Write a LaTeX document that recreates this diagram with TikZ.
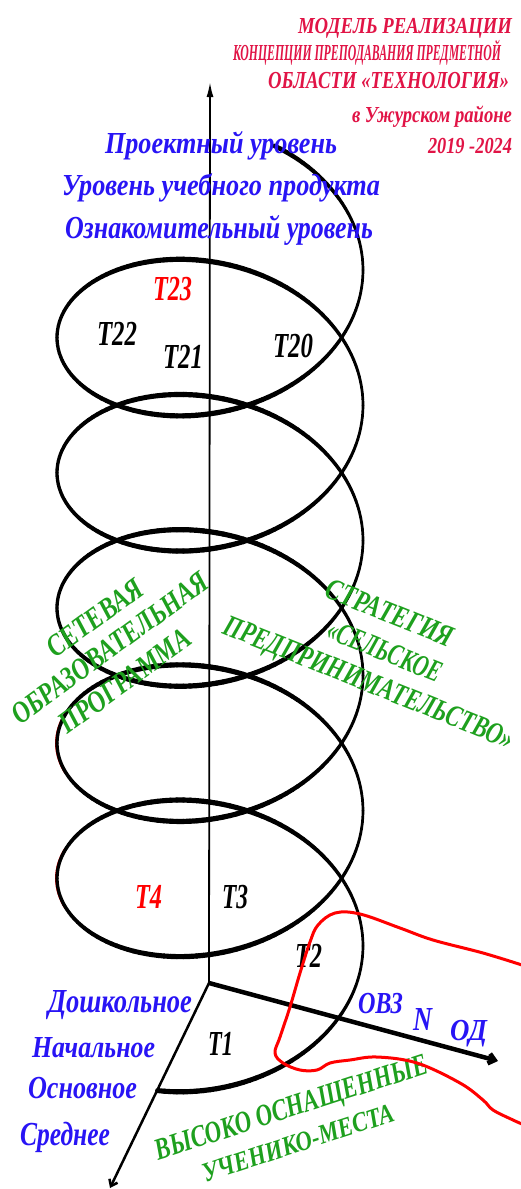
\documentclass[tikz,border=0pt]{standalone}
\usepackage{fontspec}
\setmainfont{Liberation Serif}
\usetikzlibrary{arrows.meta}
\definecolor{ttl}{RGB}{225,20,70}
\definecolor{blu}{RGB}{40,20,245}
\definecolor{grn}{RGB}{30,160,30}
\definecolor{rd}{RGB}{255,0,0}
\newlength\fitw
\newlength\fith
\newcommand\fitto[3]{\settowidth\fitw{#3}\settoheight\fith{H}%
  \pgfmathsetmacro\fitsx{#1/\fitw}\pgfmathsetmacro\fitsy{#2/\fith}%
  \scalebox{\fitsx}[\fitsy]{#3}}
\tikzset{
  lbl/.style={inner sep=0pt, outer sep=0pt, font=\bfseries\itshape\fontsize{20}{24}\selectfont},
  ttltext/.style={lbl, text=ttl, anchor=base east},
  bltext/.style={lbl, text=blu, anchor=base west},
  tlab/.style={lbl, text=black, anchor=base west},
  rlab/.style={lbl, text=rd, anchor=base west},
  gtext/.style={lbl, text=grn, anchor=center},
  axis/.style={draw=black}
}
\begin{document}
\begin{tikzpicture}[x=1pt,y=-1pt]
\fill[white] (0,0) rectangle (521,1189);
\useasboundingbox (0,0) rectangle (521,1189);
% faint red traces beside the left side of the helix
\foreach \k in {3,4} {
  \draw[rd, line width=0.9pt] plot[domain={160+360*\k}:{200+360*\k}, samples=12]
    ({208.5+153*cos(\x)},{270+0.3755*\x+110*sin(\x)});
}
% helix
\foreach \i in {0,...,789} {
  \pgfmathsetmacro\ta{-65+2.5*\i}
  \pgfmathsetmacro\tb{\ta+2.5}
  \pgfmathsetmacro\tm{\ta+1.25}
  \pgfmathsetmacro\w{3+2.2*sin(\tm)*sin(\tm)-0.3*cos(\tm)}
  \draw[line width=\w pt, line cap=round]
    ({210+153*cos(\ta)},{270+0.3755*\ta+110*sin(\ta)}) --
    ({210+153*cos(\tb)},{270+0.3755*\tb+110*sin(\tb)});
}
% axes
\coordinate (O) at (209,983);
\coordinate (Yt) at (210,82);
\coordinate (Xt) at (498,1061);
\coordinate (Zt) at (110,1188);
\draw[axis, line width=1.8pt, -{Latex[length=15pt,width=7pt]}] (O) -- (Yt);
\draw[axis, line width=4.5pt, -{Straight Barb[length=6pt,width=10pt]}] (O) -- (Xt);
\draw[axis, line width=2.5pt, -{Straight Barb[length=6pt,width=9pt]}] (O) -- (Zt);
% title
\node[ttltext] (h1) at (512,33) {\fitto{214}{15}{МОДЕЛЬ РЕАЛИЗАЦИИ}};
\node[ttltext] (h2) at (501,60) {\fitto{268}{15}{КОНЦЕПЦИИ ПРЕПОДАВАНИЯ ПРЕДМЕТНОЙ}};
\node[ttltext] (h3) at (509,88) {\fitto{241}{16}{ОБЛАСТИ «ТЕХНОЛОГИЯ»}};
\node[ttltext] (h4) at (512,122) {\fitto{160}{15}{в Ужурском районе}};
\node[ttltext] (h5) at (512,153) {\fitto{84}{15}{2019 -2024}};
% levels
\node[bltext] (l1) at (105,153) {\fitto{232}{20}{Проектный уровень}};
\node[bltext] (l2) at (62,195) {\fitto{318}{20}{Уровень учебного продукта}};
\node[bltext] (l3) at (65,238) {\fitto{308}{21}{Ознакомительный уровень}};
% T labels
\node[rlab] (t23) at (153,300) {\fitto{39}{23}{T23}};
\node[tlab] (t22) at (97,345) {\fitto{40}{23}{T22}};
\node[tlab] (t21) at (163,368) {\fitto{40}{23}{T21}};
\node[tlab] (t20) at (273,357) {\fitto{40}{23}{T20}};
\node[rlab] (t4) at (135,908) {\fitto{27}{23}{T4}};
\node[tlab] (t3) at (222,908) {\fitto{26}{23}{T3}};
\node[tlab] (t2) at (295,967) {\fitto{27}{23}{T2}};
\node[tlab] (t1) at (208,1055) {\fitto{25}{23}{T1}};
% axis labels
\node[bltext] (ovz) at (358,1013) {\fitto{45}{20}{ОВЗ}};
\node[bltext] (nn) at (413,1030) {\fitto{19}{22}{N}};
\node[bltext] (od) at (450,1040) {\fitto{37}{20}{ОД}};
\node[bltext] (s1) at (48,1012) {\fitto{144}{22}{Дошкольное}};
\node[bltext] (s2) at (32,1057) {\fitto{123}{20}{Начальное}};
\node[bltext] (s3) at (28,1098) {\fitto{109}{21}{Основное}};
\node[bltext] (s4) at (20,1145) {\fitto{90}{22}{Среднее}};
% green
\node[gtext, rotate=36] (g1) at (95,618) {\fitto{112}{20}{СЕТЕВАЯ}};
\node[gtext, rotate=36] (g2) at (110,648) {\fitto{236}{20}{ОБРАЗОВАТЕЛЬНАЯ}};
\node[gtext, rotate=36] (g3) at (125,681) {\fitto{156}{20}{ПРОГРАММА}};
\node[gtext, rotate=-22] (g4) at (390,613) {\fitto{135}{20}{СТРАТЕГИЯ}};
\node[gtext, rotate=-22] (g5) at (385,651) {\fitto{121}{20}{«СЕЛЬСКОЕ}};
\node[gtext, rotate=-22] (g6) at (368,685) {\fitto{310}{20}{ПРЕДПРИНИМАТЕЛЬСТВО»}};
\node[gtext, rotate=18] (g7) at (292,1110) {\fitto{285}{20}{ВЫСОКО ОСНАЩЕННЫЕ}};
\node[gtext, rotate=18] (g8) at (298,1143) {\fitto{200}{18}{УЧЕНИКО-МЕСТА}};
% red freehand curve
\draw[rd, line width=3pt, line cap=round, line join=round] plot[smooth, tension=0.6] coordinates {
 (522,965) (483,953) (433,940) (400,928) (360,914) (335,913) (318,925) (310,942)
 (300,973) (290,1007) (280,1037) (275,1053) (283,1063) (300,1070) (317,1070)
 (330,1063) (350,1060) (377,1057) (417,1063) (460,1083) (483,1100) (493,1110)
 (513,1120) (522,1124)};
\end{tikzpicture}
\end{document}
